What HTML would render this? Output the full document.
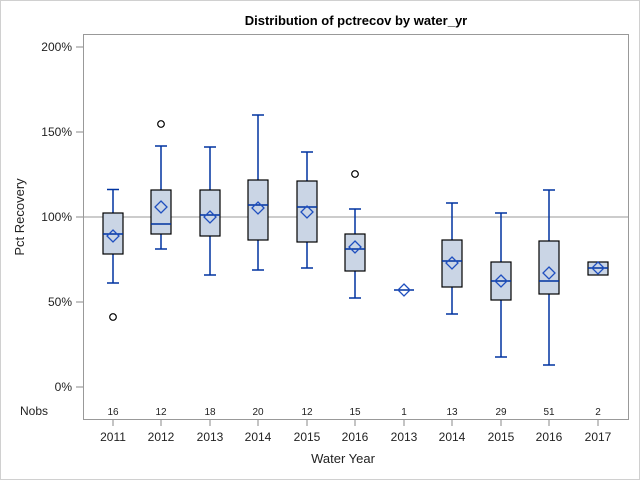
<!DOCTYPE html>
<html><head><meta charset="utf-8"><style>body{margin:0;background:#fff}svg{display:block}</style></head><body>
<svg width="640" height="480" xmlns="http://www.w3.org/2000/svg" font-family="Liberation Sans, Arial, sans-serif">
<rect x="0.5" y="0.5" width="639" height="479" fill="#fff" stroke="#d0d0d0"/>
<text x="356" y="25" text-anchor="middle" font-size="13" font-weight="bold">Distribution of pctrecov by water_yr</text>
<g font-size="12" fill="#222" text-anchor="end">
<text x="72" y="51">200%</text><text x="72" y="136">150%</text><text x="72" y="221">100%</text><text x="72" y="306">50%</text><text x="72" y="391">0%</text>
</g>
<text x="20" y="415" font-size="12" fill="#222">Nobs</text>
<g stroke="#888"><line x1="76" y1="47" x2="83" y2="47"/><line x1="76" y1="132" x2="83" y2="132"/><line x1="76" y1="217" x2="83" y2="217"/><line x1="76" y1="302" x2="83" y2="302"/><line x1="76" y1="387" x2="83" y2="387"/></g>
<text transform="translate(24,217) rotate(-90)" text-anchor="middle" font-size="13" fill="#222">Pct Recovery</text>
<line x1="83" y1="217" x2="628" y2="217" stroke="#999"/>

<g stroke="#0033a0" stroke-width="1.5">
<path d="M113 189.5V283M107 189.5H119M107 283H119"/>
<path d="M161 146V249M155 146H167M155 249H167"/>
<path d="M210 147V275M204 147H216M204 275H216"/>
<path d="M258 115V270M252 115H264M252 270H264"/>
<path d="M307 152V268M301 152H313M301 268H313"/>
<path d="M355 209V298M349 209H361M349 298H361"/>
<path d="M452 203V314M446 203H458M446 314H458"/>
<path d="M501 213V357M495 213H507M495 357H507"/>
<path d="M549 190V365M543 190H555M543 365H555"/>
</g>
<g fill="#cad5e5" stroke="#000" stroke-width="1.2">
<rect x="103" y="213" width="20" height="41"/>
<rect x="151" y="190" width="20" height="44"/>
<rect x="200" y="190" width="20" height="46"/>
<rect x="248" y="180" width="20" height="60"/>
<rect x="297" y="181" width="20" height="61"/>
<rect x="345" y="234" width="20" height="37"/>
<rect x="442" y="240" width="20" height="47"/>
<rect x="491" y="262" width="20" height="38"/>
<rect x="539" y="241" width="20" height="53"/>
<rect x="588" y="262" width="20" height="13"/>
</g>
<g stroke="#0033a0" stroke-width="1.5">
<path d="M103 234H123M151 224H171M200 215H220M248 205H268M297 207H317M345 249H365M394 290H414M442 261H462M491 281H511M539 281H559M588 268H608"/>
</g>
<g fill="none" stroke="#1f4fbf" stroke-width="1.3">
<path d="M113 230L119 236L113 242L107 236Z"/>
<path d="M161 201L167 207L161 213L155 207Z"/>
<path d="M210 211L216 217L210 223L204 217Z"/>
<path d="M258 202L264 208L258 214L252 208Z"/>
<path d="M307 206L313 212L307 218L301 212Z"/>
<path d="M355 241L361 247L355 253L349 247Z"/>
<path d="M404 284L410 290L404 296L398 290Z"/>
<path d="M452 257L458 263L452 269L446 263Z"/>
<path d="M501 275L507 281L501 287L495 281Z"/>
<path d="M549 267L555 273L549 279L543 273Z"/>
<path d="M598 262L604 268L598 274L592 268Z"/>
</g>
<g fill="none" stroke="#000" stroke-width="1.2">
<circle cx="113" cy="317" r="3.3"/><circle cx="161" cy="124" r="3.3"/><circle cx="355" cy="174" r="3.3"/>
</g>
<g font-size="10" fill="#222" text-anchor="middle">
<text x="113" y="415">16</text><text x="161" y="415">12</text><text x="210" y="415">18</text><text x="258" y="415">20</text><text x="307" y="415">12</text><text x="355" y="415">15</text><text x="404" y="415">1</text><text x="452" y="415">13</text><text x="501" y="415">29</text><text x="549" y="415">51</text><text x="598" y="415">2</text>
</g>
<g stroke="#888"><path d="M113 419V426M161 419V426M210 419V426M258 419V426M307 419V426M355 419V426M404 419V426M452 419V426M501 419V426M549 419V426M598 419V426"/></g>
<g font-size="12" fill="#222" text-anchor="middle">
<text x="113" y="441">2011</text><text x="161" y="441">2012</text><text x="210" y="441">2013</text><text x="258" y="441">2014</text><text x="307" y="441">2015</text><text x="355" y="441">2016</text><text x="404" y="441">2013</text><text x="452" y="441">2014</text><text x="501" y="441">2015</text><text x="549" y="441">2016</text><text x="598" y="441">2017</text>
</g>
<rect x="83.5" y="34.5" width="545" height="385" fill="none" stroke="#999"/>
<text x="343" y="463" text-anchor="middle" font-size="13" fill="#222">Water Year</text>
</svg>
</body></html>
